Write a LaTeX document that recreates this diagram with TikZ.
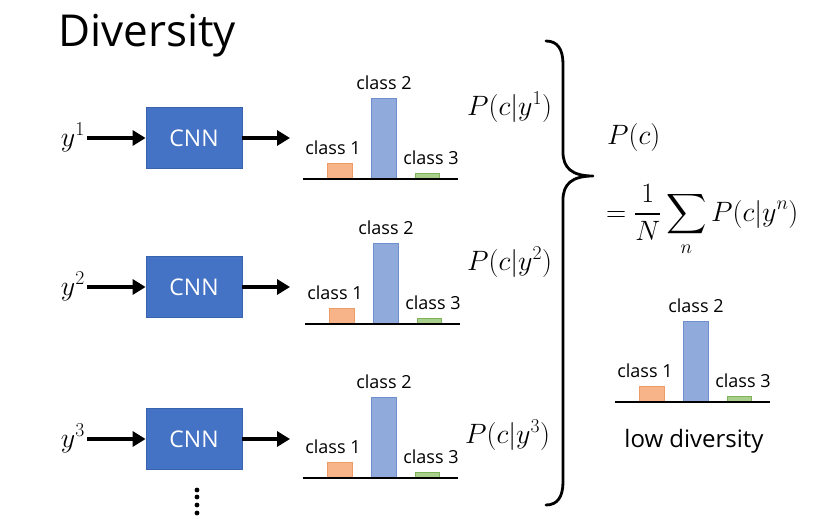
\RequirePackage{fix-cm}
\documentclass[tikz,border=0pt]{standalone}
\usepackage[no-math]{fontspec}
\setmainfont{Open Sans}
\usetikzlibrary{arrows.meta}
% let the large-operator font grow with the text size
\DeclareFontShape{OMX}{cmex}{m}{n}{<-> cmex10}{}

\definecolor{cnnfill}{HTML}{4472C4}
\definecolor{cnnedge}{HTML}{3A63AE}
\definecolor{orfill}{HTML}{F6B488}
\definecolor{oredge}{HTML}{EE9C66}
\definecolor{blfill}{HTML}{90AADC}
\definecolor{bledge}{HTML}{6E8ED0}
\definecolor{grfill}{HTML}{A8CF8C}
\definecolor{gredge}{HTML}{7DB25A}

\tikzset{
  cnnbox/.style={draw=cnnedge, line width=0.8pt, fill=cnnfill, text=white,
    minimum width=96pt, minimum height=61pt, inner sep=0pt,
    font=\fontsize{23}{26}\selectfont},
  arr/.style={line width=3.6pt, -{Triangle[length=13pt,width=15pt]}},
  axisline/.style={line width=2.6pt},
  barO/.style={draw=oredge, fill=orfill, line width=0.8pt},
  barB/.style={draw=bledge, fill=blfill, line width=0.8pt},
  barG/.style={draw=gredge, fill=grfill, line width=0.8pt},
  classlbl/.style={inner sep=0pt, font=\fontsize{18}{20}\selectfont},
  mathlbl/.style={inner sep=0pt, font=\fontsize{28}{32}\selectfont},
  bracepath/.style={line width=2.8pt, line join=round, line cap=round},
}

% class histogram: #1 = name prefix, #2 = left end of axis, #3 = axis height
\newcommand\classchart[3]{%
  \begin{scope}[shift={(#2,#3)}]
    \draw[barO] (24,0) rectangle (49,-16);
    \draw[barB] (68,0) rectangle (93,-81);
    \draw[barG] (112,0) rectangle (136,-6);
    \draw[axisline] (0,0) -- (155,0);
    \node[classlbl] (#1c1) at (30,-31) {class 1};
    \node[classlbl] (#1c2) at (81,-96) {class 2};
    \node[classlbl] (#1c3) at (128,-21) {class 3};
  \end{scope}}

\begin{document}
\begin{tikzpicture}[x=1pt,y=-1pt]
  \useasboundingbox (0,0) rectangle (817,519);

  % title
  \node[anchor=base west, inner sep=0pt, font=\fontsize{44}{50}\selectfont]
    (title) at (58,47) {Diversity};

  % three generator outputs fed through the classifier
  \foreach \r/\ry/\cy/\py/\px in {1/138/138/115/467, 2/287/287/270/467, 3/439/439/443/465} {
    \node[cnnbox] (cnn\r) at (194,\cy) {CNN};
    \node[mathlbl, anchor=base east, inner xsep=2pt] (y\r) at (87,\ry+8) {$y^{\r}$};
    \draw[arr] (y\r.east |- cnn\r.west) -- (cnn\r.west);
    \coordinate (out\r) at (290,\cy);
    \draw[arr] (cnn\r.east) -- (out\r);
    \node[mathlbl, anchor=base west] (p\r) at (\px,\py) {$P(c|y^{\r})$};
  }

  \classchart{h1}{303}{179}
  \classchart{h2}{305}{324}
  \classchart{h3}{303}{478}

  % vertical ellipsis below the last row
  \foreach \d in {490,497,505,513}
    \fill (197,\d) circle (2.4pt);

  % curly brace collecting the three distributions
  \draw[bracepath] (546,41) .. controls (558,41) and (563,50) .. (563,64)
    -- (563,152) .. controls (563,168) and (572,176) .. (593,176)
    .. controls (572,176) and (563,184) .. (563,200)
    -- (563,482) .. controls (563,496) and (558,505) .. (546,505);

  % average distribution
  \node[mathlbl, anchor=base west] (pc) at (607,144) {$P(c)$};
  \node[mathlbl, anchor=base west] (avg) at (606,221)
    {$\displaystyle =\frac{1}{N}\sum_{n} P(c|y^{n})$};

  \classchart{h4}{615}{402}
  \node[inner sep=0pt, font=\fontsize{24}{28}\selectfont] (low) at (694,441) {low diversity};
\end{tikzpicture}
\end{document}
